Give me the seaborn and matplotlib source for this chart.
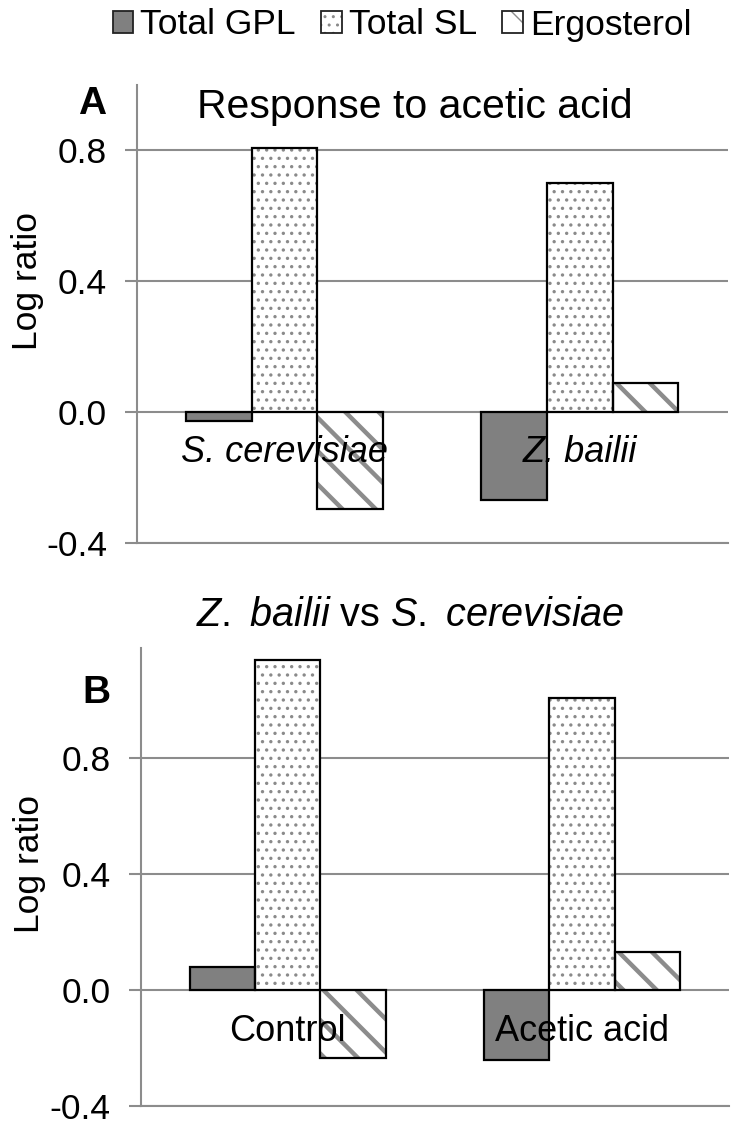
import numpy as np
import pandas as pd
import matplotlib
matplotlib.use("Agg")
import matplotlib.pyplot as plt
import seaborn as sns
from matplotlib.patches import Rectangle, Patch
from matplotlib.legend_handler import HandlerTuple

# ---------------- data ----------------
lipids = ["Total GPL", "Total SL", "Ergosterol"]

species = ["S. cerevisiae", "Z. bailii"]
gpl_a = [-0.029, -0.268]
sl_a = [0.806, 0.699]
erg_a = [-0.298, 0.087]

conditions = ["Control", "Acetic acid"]
gpl_b = [0.080, -0.241]
sl_b = [1.136, 1.005]
erg_b = [-0.232, 0.130]

yticks = [-0.4, 0.0, 0.4, 0.8]
ytick_labels = ["-0.4", "0.0", "0.4", "0.8"]

title_a = "Response to acetic acid"
title_b = r"$\it{Z.\ bailii}$ vs $\it{S.\ cerevisiae}$"
ylabel = "Log ratio"

# ---------------- style ----------------
sns.set_theme(style="white")
plt.rcParams["font.family"] = ["Liberation Sans", "DejaVu Sans"]
plt.rcParams["mathtext.fontset"] = "custom"
plt.rcParams["mathtext.rm"] = "Liberation Sans"
plt.rcParams["mathtext.it"] = "Liberation Sans:italic"
plt.rcParams["mathtext.bf"] = "Liberation Sans:bold"
plt.rcParams["text.color"] = "black"
plt.rcParams["ytick.color"] = "black"
plt.rcParams["xtick.color"] = "black"

W, H, DPI = 743, 1132, 100
GRID = "#8c8c8c"
FILLS = {"Total GPL": "#808080", "Total SL": "white", "Ergosterol": "white"}
HATCH = {"Total GPL": None, "Total SL": "..", "Ergosterol": "\\"}
HATCH_COL = {"Total GPL": "#808080", "Total SL": "#8a8a8a", "Ergosterol": "#8c8c8c"}
HATCH_LW = {"Total GPL": 1.0, "Total SL": 1.2, "Ergosterol": 3.2}
FS = 25.5

fig = plt.figure(figsize=(W / DPI, H / DPI), dpi=DPI)


def axes_px(l, t, r, b):
    return fig.add_axes([l / W, 1 - b / H, (r - l) / W, (b - t) / H])


def style_patch(p, lip):
    p.set_facecolor(FILLS[lip])
    p.set_edgecolor(HATCH_COL[lip])
    p.set_linewidth(0)
    if HATCH[lip]:
        p.set_hatch(HATCH[lip])
        if hasattr(p, "set_hatch_linewidth"):
            p.set_hatch_linewidth(HATCH_LW[lip])


def draw_panel(ax, cats, gpl, sl, erg, ymax, italic):
    df = pd.DataFrame({
        "group": list(cats) * 3,
        "lipid": [lipids[0]] * len(cats) + [lipids[1]] * len(cats) + [lipids[2]] * len(cats),
        "value": list(gpl) + list(sl) + list(erg),
    })
    sns.barplot(data=df, x="group", y="value", hue="lipid", order=cats,
                hue_order=lipids, palette=FILLS, saturation=1, width=0.667,
                gap=0, linewidth=0, legend=False, ax=ax, zorder=2, errorbar=None)
    for cont, lip in zip(ax.containers, lipids):
        for p in cont:
            style_patch(p, lip)
            ax.add_patch(Rectangle(p.get_xy(), p.get_width(), p.get_height(),
                                   fill=False, edgecolor="black", linewidth=1.6,
                                   zorder=3))
    ax.set_ylim(-0.4, ymax)
    ax.set_xlim(-0.5, len(cats) - 0.5)
    ax.set_yticks(yticks)
    ax.set_yticklabels(ytick_labels)
    ax.yaxis.grid(True, color=GRID, linewidth=1.5, zorder=1)
    ax.set_axisbelow(True)
    ax.set_xticks([])
    ax.set_xlabel("")
    ax.set_ylabel("")
    for s in ["top", "right"]:
        ax.spines[s].set_visible(False)
    for s in ["left", "bottom"]:
        ax.spines[s].set_color(GRID)
        ax.spines[s].set_linewidth(1.5)
    ax.tick_params(axis="y", left=True, length=9, width=1.5, color=GRID,
                   direction="out", pad=12.5, labelsize=FS, labelcolor="black")
    for i, c in enumerate(cats):
        ax.annotate(c, xy=(i, 0), xycoords="data", xytext=(0, -41),
                    textcoords="offset pixels", ha="center", va="center",
                    fontsize=26, style="italic" if italic else "normal",
                    color="black", zorder=5)


axA = axes_px(137, 85, 727.5, 542.7)
axB = axes_px(140.5, 648, 729.3, 1106.3)

draw_panel(axA, species, gpl_a, sl_a, erg_a, 1.0, True)
draw_panel(axB, conditions, gpl_b, sl_b, erg_b, 1.178, False)

# titles, panel letters, y labels
fig.text(415 / W, 1 - 107 / H, title_a, ha="center", va="center", fontsize=29.5)
fig.text(410 / W, 1 - 615 / H, title_b, ha="center", va="center", fontsize=28.5)
fig.text(92 / W, 1 - 104 / H, "A", ha="center", va="center", fontsize=28,
         fontweight="bold")
fig.text(96 / W, 1 - 693 / H, "B", ha="center", va="center", fontsize=28,
         fontweight="bold")
fig.text(28 / W, 1 - 281 / H, ylabel, rotation=90, ha="center", va="center",
         fontsize=FS)
fig.text(29 / W, 1 - 864 / H, ylabel, rotation=90, ha="center", va="center",
         fontsize=FS)

# legend
handles = []
for lip in lipids:
    hp = Patch(facecolor=FILLS[lip], edgecolor=HATCH_COL[lip], linewidth=0,
               hatch=HATCH[lip])
    if HATCH[lip] and hasattr(hp, "set_hatch_linewidth"):
        hp.set_hatch_linewidth(HATCH_LW[lip])
    op = Patch(fill=False, edgecolor="#222222", linewidth=1.3)
    handles.append((hp, op))
fig.legend(handles, lipids, loc="center", bbox_to_anchor=(402 / W, 1 - 25 / H),
           ncol=3, frameon=False, fontsize=25.5, handlelength=0.58,
           handleheight=0.58, handletextpad=0.2, columnspacing=0.72,
           borderpad=0, borderaxespad=0,
           handler_map={tuple: HandlerTuple(ndivide=1, pad=0)})

fig.savefig("out.png", dpi=DPI)
